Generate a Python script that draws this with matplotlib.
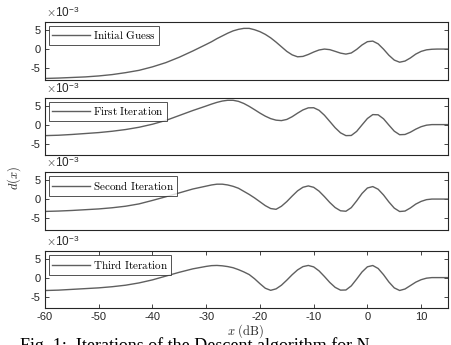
import numpy as np
import matplotlib
matplotlib.use('Agg')
import matplotlib.pyplot as plt

plt.rcParams['mathtext.fontset'] = 'cm'
plt.rcParams['font.family'] = ['Liberation Sans', 'DejaVu Sans']

# d(x) values, in units of 1e-3, x in dB
x_guess = [-60, -57.5, -55, -52.5, -50, -47.5, -45, -42.5, -40, -37.5, -35, -32.5, -30,
           -29, -28, -27, -26, -25, -24, -23, -22, -21, -20, -19, -18, -17, -16, -15,
           -14, -13, -12, -11, -10, -9, -8, -7, -6, -5, -4, -3, -2, -1, 0, 1, 2, 3, 4,
           5, 6, 7, 8, 9, 10, 11, 12, 13, 15]
d_guess = [-7.6, -7.5, -7.35, -7.2, -6.95, -6.6, -6.1, -5.5, -4.6, -3.5, -2.1, -0.5, 1.2,
           1.9, 2.7, 3.4, 4.1, 4.7, 5.1, 5.35, 5.35, 5.0, 4.5, 3.8, 2.9, 1.8, 0.6, -0.6,
           -1.5, -2.0, -1.9, -1.4, -0.77, -0.24, 0.0, -0.15, -0.59, -1.05, -1.3, -1.01,
           -0.09, 1.06, 1.91, 2.06, 1.35, -0.02, -1.6, -2.85, -3.4, -3.1, -2.3, -1.3,
           -0.6, -0.2, -0.05, 0.0, 0.0]

x_first = [-60, -57.5, -55, -52.5, -50, -47.5, -45, -42.5, -40, -37.5, -35, -32.5, -30,
           -29, -28, -27, -26, -25, -24, -23, -22, -21, -20, -19, -18, -17, -16, -15,
           -14, -13, -12, -11, -10, -9, -8, -7, -6, -5, -4, -3, -2, -1, 0, 1, 2, 3, 4,
           5, 6, 7, 8, 9, 10, 11, 12, 15]
d_first = [-2.9, -2.8, -2.6, -2.35, -2.1, -1.75, -1.3, -0.7, 0.1, 1.1, 2.4, 3.7, 4.9,
           5.4, 5.85, 6.2, 6.4, 6.4, 6.12, 5.56, 4.8, 3.93, 3.03, 2.22, 1.57, 1.17, 1.05,
           1.36, 2.08, 3.01, 3.86, 4.41, 4.44, 3.77, 2.47, 0.83, -0.83, -2.17, -2.9,
           -2.86, -1.79, -0.08, 1.6, 2.63, 2.58, 1.53, -0.13, -1.73, -2.66, -2.6, -2.0,
           -1.2, -0.55, -0.15, 0.0, 0.0]

x_second = [-60, -57.5, -55, -52.5, -50, -47.5, -45, -42.5, -40, -37.5, -35, -32.5, -30,
            -29, -28, -27, -26, -25, -24, -23, -22, -21, -20, -19, -18, -17, -16, -15,
            -14, -13, -12, -11, -10, -9, -8, -7, -6, -5, -4, -3, -2, -1, 0, 1, 2, 3, 4,
            5, 6, 7, 8, 9, 10, 11, 12, 15]
d_second = [-3.2, -3.1, -2.95, -2.75, -2.55, -2.25, -1.85, -1.25, -0.35, 0.6, 1.6, 2.6,
            3.35, 3.65, 3.85, 3.85, 3.65, 3.3, 2.8, 2.0, 1.2, 0.3, -0.7, -1.7, -2.45,
            -2.65, -1.86, -0.65, 0.78, 2.12, 3.05, 3.4, 3.04, 2.05, 0.64, -0.89, -2.2,
            -3.03, -3.15, -2.22, -0.47, 1.45, 2.86, 3.23, 2.54, 1.06, -0.75, -2.34, -3.22,
            -3.1, -2.3, -1.3, -0.6, -0.15, 0.0, 0.0]

x_third = [-60, -57.5, -55, -52.5, -50, -47.5, -45, -42.5, -40, -37.5, -35, -32.5, -30,
           -29, -28, -27, -26, -25, -24, -23, -22, -21, -20, -19, -18, -17, -16, -15,
           -14, -13, -12, -11, -10, -9, -8, -7, -6, -5, -4, -3, -2, -1, 0, 1, 2, 3, 4,
           5, 6, 7, 8, 9, 10, 11, 12, 15]
d_third = [-3.4, -3.3, -3.1, -2.9, -2.7, -2.4, -2.0, -1.4, -0.6, 0.4, 1.4, 2.3, 2.95,
           3.15, 3.2, 3.1, 2.9, 2.6, 2.1, 1.5, 0.8, -0.3, -1.6, -2.8, -3.35, -2.96, -2.0,
           -0.67, 0.76, 2.02, 2.89, 3.2, 2.82, 1.77, 0.3, -1.28, -2.57, -3.3, -3.26,
           -2.18, -0.39, 1.48, 2.84, 3.18, 2.4, 0.77, -1.16, -2.71, -3.39, -3.0, -2.1,
           -1.2, -0.55, -0.15, 0.0, 0.0]

labels = ['Initial Guess', 'First Iteration', 'Second Iteration', 'Third Iteration']
series = [(x_guess, d_guess), (x_first, d_first), (x_second, d_second), (x_third, d_third)]
x_ticks = [-60, -50, -40, -30, -20, -10, 0, 10]
y_ticks = [-5, 0, 5]

# axes boxes in pixels (top, bottom) of the 451x345 figure
rows = [(22, 80), (98, 155), (172, 230), (251, 308)]
W, H = 451, 345
ax_col = '#262626'
line_col = '#5f5f5f'

fig = plt.figure(figsize=(W / 100, H / 100), dpi=100)

for i, ((xs, ds), lab, (t, b)) in enumerate(zip(series, labels, rows)):
    ax = fig.add_axes([45 / W, 1 - b / H, (448 - 45) / W, (b - t) / H])
    ax.plot(xs, ds, color=line_col, lw=1.0, label=r'$\mathrm{' + lab.replace(' ', r'\ ') + '}$')
    ax.set_xlim(-60, 15)
    ax.set_ylim(-8, 7)
    ax.set_yticks(y_ticks)
    ax.set_yticklabels(['-5', '0', '5'])
    for s in ax.spines.values():
        s.set_color(ax_col)
        s.set_linewidth(0.8)
    ax.tick_params(direction='in', length=3, width=0.6, colors=ax_col, labelsize=8,
                   left=True, right=True, pad=3)
    if i == 3:
        ax.set_xticks(x_ticks)
        ax.set_xticklabels([str(v) for v in x_ticks])
        ax.tick_params(axis='x', top=True, bottom=True)
    else:
        ax.set_xticks([])
    leg = ax.legend(loc='upper left', fontsize=8, frameon=True, fancybox=False,
                    handlelength=3.4, handletextpad=0.25, borderpad=0.3,
                    borderaxespad=0.35)
    leg.get_frame().set_edgecolor(ax_col)
    leg.get_frame().set_linewidth(0.7)
    fig.text(46 / W, 1 - (t - 2) / H, r'$\times$10$^{\mathregular{-3}}$', fontsize=8.5,
             color=ax_col, va='bottom', ha='left')

fig.text(14 / W, 1 - 178 / H, r'$d(x)$', rotation=90, fontsize=9, va='center',
         ha='center', color=ax_col)
fig.text(246 / W, 1 - 331 / H, r'$x\ \mathrm{(dB)}$', fontsize=9, va='center',
         ha='center', color=ax_col)
# figure caption, cut off at the bottom edge as in the source
fig.text(20 / W, 1 - 337 / H, 'Fig. 1:  Iterations of the Descent algorithm for N',
         family='Liberation Serif', fontsize=13, va='top', ha='left', color='black')

fig.savefig('out.png', dpi=100)
